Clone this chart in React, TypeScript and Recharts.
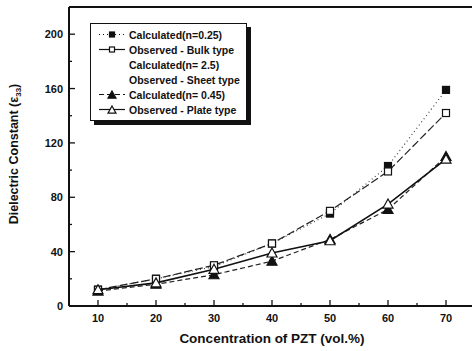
import { LineChart, Line, XAxis, YAxis, ReferenceLine, Label } from "recharts";

const pzt = [10, 20, 30, 40, 50, 60, 70];
const calc025 = [12, 20, 29, 46, 68, 103, 159];
const obsBulk = [12, 20, 30, 46, 70, 99, 142];
const calc045 = [11, 16, 23, 33, 49, 71, 110];
const obsPlate = [12, 17, 27, 39, 48, 75, 108];

const xTicks = [10, 15, 20, 25, 30, 35, 40, 45, 50, 55, 60, 65, 70];
const yTicks = [0, 20, 40, 60, 80, 100, 120, 140, 160, 180, 200];

const data = pzt.map((p, i) => ({
  pzt: p,
  calc025: calc025[i],
  obsBulk: obsBulk[i],
  calc045: calc045[i],
  obsPlate: obsPlate[i],
}));

const font = "'Liberation Sans', Arial, sans-serif";

const Square = ({ cx, cy, filled, s = 7 }: any) => (
  <rect x={cx - s / 2} y={cy - s / 2} width={s} height={s} fill={filled ? "#111" : "#fff"} stroke="#111" strokeWidth={1.2} />
);

const Tri = ({ cx, cy, filled, s = 5 }: any) => (
  <path d={`M${cx},${cy - s} L${cx + s},${cy + s * 0.8} L${cx - s},${cy + s * 0.8} Z`} fill={filled ? "#111" : "#fff"} stroke="#111" strokeWidth={1.2} />
);

const XTick = ({ x, y, payload }: any) => {
  const major = payload.value % 10 === 0;
  return (
    <g>
      <line x1={x} y1={y - 6} x2={x} y2={y - 6 - (major ? 6 : 3)} stroke="#111" strokeWidth={1.3} />
      {major && (
        <text x={x} y={y + 10} textAnchor="middle" fontFamily={font} fontWeight="bold" fontSize={11} fill="#111">
          {payload.value}
        </text>
      )}
    </g>
  );
};

const YTick = ({ x, y, payload }: any) => {
  const major = payload.value % 40 === 0;
  return (
    <g>
      <line x1={x + 6} y1={y} x2={x + 6 + (major ? 6 : 3)} y2={y} stroke="#111" strokeWidth={1.3} />
      {major && (
        <text x={x} y={y + 4} textAnchor="end" fontFamily={font} fontWeight="bold" fontSize={11} fill="#111">
          {payload.value}
        </text>
      )}
    </g>
  );
};

const legendRows = [
  { label: "Calculated(n=0.25)", dash: "1 3", sym: "sqf" },
  { label: "Observed - Bulk type", dash: "", sym: "sqo" },
  { label: "Calculated(n= 2.5)", dash: null, sym: "" },
  { label: "Observed - Sheet type", dash: null, sym: "" },
  { label: "Calculated(n= 0.45)", dash: "5 3", sym: "trf" },
  { label: "Observed - Plate type", dash: "", sym: "tro" },
];

const LegendBox = () => (
  <div
    style={{
      position: "absolute",
      left: 90,
      top: 23,
      width: 155,
      border: "1px solid #111",
      boxShadow: "4px 4px 0 #111",
      background: "#fff",
      padding: "3px 0 3px 0",
      fontFamily: font,
      fontWeight: "bold",
      fontSize: 10.5,
      color: "#111",
    }}
  >
    {legendRows.map((r) => (
      <div key={r.label} style={{ display: "flex", alignItems: "center", height: 15 }}>
        <svg width={38} height={15}>
          {r.dash !== null && (
            <line x1={8} y1={7.5} x2={34} y2={7.5} stroke="#111" strokeWidth={1.2} strokeDasharray={r.dash} />
          )}
          {r.sym === "sqf" && <Square cx={21} cy={7.5} s={5} filled />}
          {r.sym === "sqo" && <Square cx={21} cy={7.5} s={5} />}
          {r.sym === "trf" && <Tri cx={21} cy={8} s={4} filled />}
          {r.sym === "tro" && <Tri cx={21} cy={8} s={4} />}
        </svg>
        <span style={{ marginLeft: 0 }}>{r.label}</span>
      </div>
    ))}
  </div>
);

export default function App() {
  return (
    <div style={{ position: "absolute", left: 0, top: 0, width: 472, height: 351, overflow: "hidden", background: "#fff" }}>
      <LineChart width={480} height={351} data={data} margin={{ top: 7, right: 5, bottom: 0, left: 0 }}>
        <XAxis
          dataKey="pzt"
          type="number"
          domain={[5, 75]}
          ticks={xTicks}
          tickSize={0}
          tickMargin={6}
          tick={<XTick />}
          axisLine={{ stroke: "#111", strokeWidth: 2 }}
          height={45}
          interval={0}
        >
          <Label
            value="Concentration of PZT (vol.%)"
            position="insideBottom"
            offset={8}
            style={{ fontFamily: font, fontWeight: "bold", fontSize: 13.5, fill: "#111" }}
          />
        </XAxis>
        <YAxis
          type="number"
          domain={[0, 220]}
          ticks={yTicks}
          tickSize={0}
          tickMargin={6}
          tick={<YTick />}
          axisLine={{ stroke: "#111", strokeWidth: 2 }}
          width={69}
          interval={0}
        >
          <Label
            content={() => (
              <text
                transform="translate(18,154) rotate(-90)"
                textAnchor="middle"
                fontFamily={font}
                fontWeight="bold"
                fontSize={12.5}
                fill="#111"
              >
                Dielectric Constant (ε
                <tspan fontSize={8} dy={3}>33</tspan>
                <tspan dy={-3}>)</tspan>
              </text>
            )}
          />
        </YAxis>
        <ReferenceLine y={220} stroke="#111" strokeWidth={2} />
        <Line
          dataKey="calc025"
          stroke="#444"
          strokeWidth={1.2}
          strokeDasharray="1 3"
          dot={(p: any) => <Square key={p.index} cx={p.cx} cy={p.cy} filled />}
          isAnimationActive={false}
        />
        <Line
          dataKey="obsBulk"
          stroke="#222"
          strokeWidth={1.2}
          strokeDasharray="8 3"
          dot={(p: any) => <Square key={p.index} cx={p.cx} cy={p.cy} />}
          isAnimationActive={false}
        />
        <Line
          dataKey="calc045"
          stroke="#222"
          strokeWidth={1.2}
          strokeDasharray="5 3"
          dot={(p: any) => <Tri key={p.index} cx={p.cx} cy={p.cy} filled />}
          isAnimationActive={false}
        />
        <Line
          dataKey="obsPlate"
          stroke="#111"
          strokeWidth={1.6}
          dot={(p: any) => <Tri key={p.index} cx={p.cx} cy={p.cy} />}
          isAnimationActive={false}
        />
      </LineChart>
      <LegendBox />
    </div>
  );
}
